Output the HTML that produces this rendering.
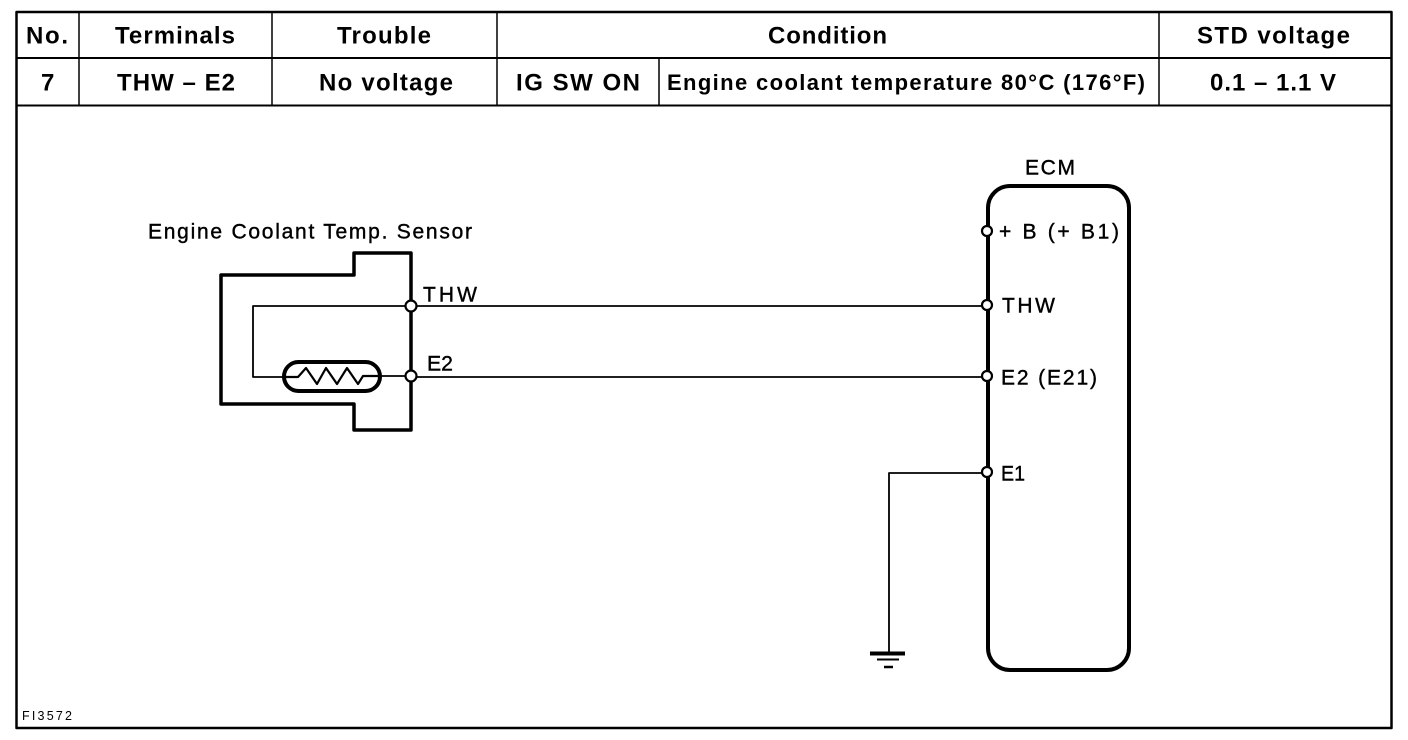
<!DOCTYPE html>
<html><head><meta charset="utf-8"><style>
html,body{margin:0;padding:0;background:#fff}
svg{display:block}
text{font-family:"Liberation Sans",sans-serif;fill:#000}
.h{font-size:24px;font-weight:bold}
.l{font-size:21px;stroke:#000;stroke-width:.4px}
</style></head><body>
<svg width="1408" height="740" viewBox="0 0 1408 740" xmlns="http://www.w3.org/2000/svg">
<rect width="1408" height="740" fill="#fff"/>
<g fill="none" stroke="#000" stroke-linejoin="round">
<rect x="16.500" y="12" width="1375" height="716" stroke-width="2.500"/>
<path d="M16 58H1391M16 105.500H1391" stroke-width="2"/>
<path d="M79 12V105M272 12V105M497 12V105M659 58V105M1159 12V105" stroke-width="1.500"/>
<path d="M354 253H411V430H354V404H221V275H354Z" stroke-width="3.500"/>
<path d="M411 306H253V377H283M380 376H411" stroke-width="1.800"/>
<rect x="284" y="362" width="96" height="29" rx="14.500" stroke-width="4"/>
<path d="M284 377H298L306 368L317 384L326 368L337 384L347 368L358 384L363 376H378" stroke-width="2.200"/>
<path d="M411 306H987M411 377H987" stroke-width="1.800"/>
<path d="M987 473H889V653" stroke-width="1.800"/>
<path d="M870 653.500H905" stroke-width="4"/>
<path d="M877 659.500H899" stroke-width="2"/>
<path d="M884 667H893" stroke-width="2.500"/>
<rect x="988" y="186" width="141" height="484" rx="22" stroke-width="4"/>
<g fill="#fff" stroke-width="2.200">
<circle cx="411" cy="306" r="5.500"/>
<circle cx="411" cy="376" r="5.500"/>
<circle cx="987" cy="231" r="5"/>
<circle cx="987" cy="305" r="5"/>
<circle cx="987" cy="376" r="5"/>
<circle cx="987" cy="472" r="5"/>
</g>
</g>
<text class="h" x="26" y="43.500" textLength="42" lengthAdjust="spacing">No.</text>
<text class="h" x="115" y="43.500" textLength="120" lengthAdjust="spacing">Terminals</text>
<text class="h" x="337" y="43.500" textLength="94" lengthAdjust="spacing">Trouble</text>
<text class="h" x="768" y="43.500" textLength="119" lengthAdjust="spacing">Condition</text>
<text class="h" x="1197" y="43.500" textLength="153" lengthAdjust="spacing">STD voltage</text>
<text class="h" x="41" y="90.500" textLength="13" lengthAdjust="spacing">7</text>
<text class="h" x="117" y="90.500" textLength="118" lengthAdjust="spacing">THW – E2</text>
<text class="h" x="319" y="90.500" textLength="134" lengthAdjust="spacing">No voltage</text>
<text class="h" x="516" y="90.500" textLength="124" lengthAdjust="spacing">IG SW ON</text>
<text class="h" x="667" y="90" textLength="478" lengthAdjust="spacing" style="font-size:22px">Engine coolant temperature 80°C (176°F)</text>
<text class="h" x="1210" y="90.500" textLength="126" lengthAdjust="spacing">0.1 – 1.1 V</text>
<text class="l" x="148" y="238.500" textLength="324" lengthAdjust="spacing">Engine Coolant Temp. Sensor</text>
<text class="l" x="423" y="301.500" textLength="54" lengthAdjust="spacing">THW</text>
<text class="l" x="427" y="370.500" textLength="26" lengthAdjust="spacingAndGlyphs">E2</text>
<text class="l" x="1025" y="174.500" textLength="50" lengthAdjust="spacing">ECM</text>
<text class="l" x="999" y="238.500" textLength="120" lengthAdjust="spacing">+ B (+ B1)</text>
<text class="l" x="1002" y="312.500" textLength="53" lengthAdjust="spacing">THW</text>
<text class="l" x="1001" y="384.500" textLength="96" lengthAdjust="spacing">E2 (E21)</text>
<text class="l" x="1001" y="480.500" textLength="24" lengthAdjust="spacingAndGlyphs">E1</text>
<text x="22" y="720" font-size="12.500" textLength="50" lengthAdjust="spacing">FI3572</text>
</svg>
</body></html>
